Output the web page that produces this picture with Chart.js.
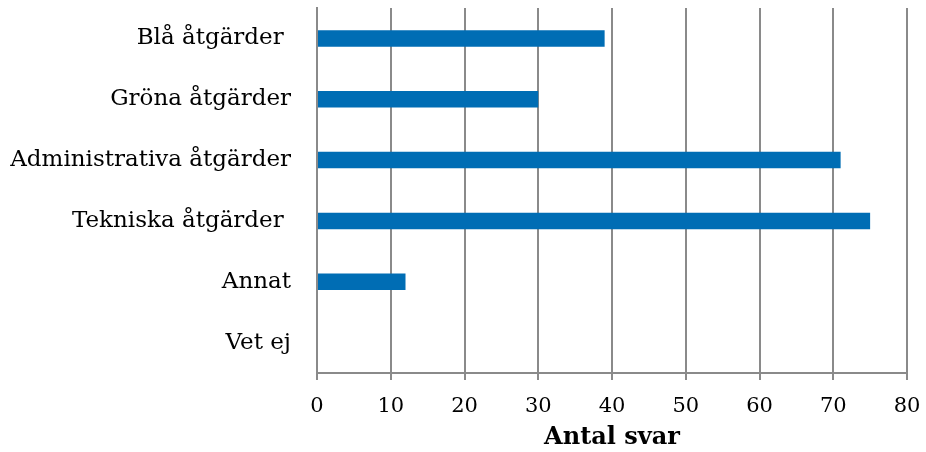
<!DOCTYPE html>
<html>
<head>
<meta charset="utf-8">
<script src="https://cdn.jsdelivr.net/npm/chart.js@4"></script>
<style>
  body { margin: 0; background: #fff; }
</style>
</head>
<body>
<canvas id="chart" width="926" height="452"></canvas>
<script>
const categories = ['Blå åtgärder ', 'Gröna åtgärder', 'Administrativa åtgärder', 'Tekniska åtgärder ', 'Annat', 'Vet ej'];
const answers = [39, 30, 71, 75, 12, 0];
const xTicks = [0, 10, 20, 30, 40, 50, 60, 70, 80];

const fontFamily = "'DejaVu Serif', serif";
const gridColor = '#8a8a8a';

const ctx = document.getElementById('chart').getContext('2d');
const chart = new Chart(ctx, {
  type: 'bar',
  data: {
    labels: categories,
    datasets: [{
      data: answers,
      backgroundColor: '#006db4',
      borderWidth: 0,
      barPercentage: 0.27,
      categoryPercentage: 1
    }]
  },
  options: {
    indexAxis: 'y',
    responsive: false,
    animation: false,
    layout: { padding: { left: 0, right: 19, top: 8, bottom: 0 } },
    plugins: {
      legend: { display: false },
      tooltip: { enabled: false }
    },
    scales: {
      x: {
        min: 0,
        max: 80,
        afterBuildTicks: (scale) => {
          scale.ticks = xTicks.map((v) => ({ value: v }));
        },
        afterFit: (scale) => {
          scale.height = 79;
          scale.paddingLeft = 0;
          scale.paddingRight = 0;
        },
        grid: {
          color: gridColor,
          lineWidth: 2,
          tickLength: 7,
          drawTicks: true
        },
        border: { color: gridColor, width: 2 },
        ticks: {
          color: '#000',
          font: { family: fontFamily, size: 21 },
          padding: 14
        },
        title: {
          display: true,
          text: 'Antal svar',
          color: '#000',
          font: { family: fontFamily, size: 24, weight: 'bold' },
          padding: { top: 0, bottom: 0 }
        }
      },
      y: {
        afterFit: (scale) => {
          scale.width = 317;
          scale.paddingTop = 0;
          scale.paddingBottom = 0;
        },
        grid: { display: false },
        border: { color: gridColor, width: 2 },
        ticks: {
          color: '#000',
          font: { family: fontFamily, size: 23 },
          padding: 18
        }
      }
    }
  }
});
</script>
</body>
</html>
